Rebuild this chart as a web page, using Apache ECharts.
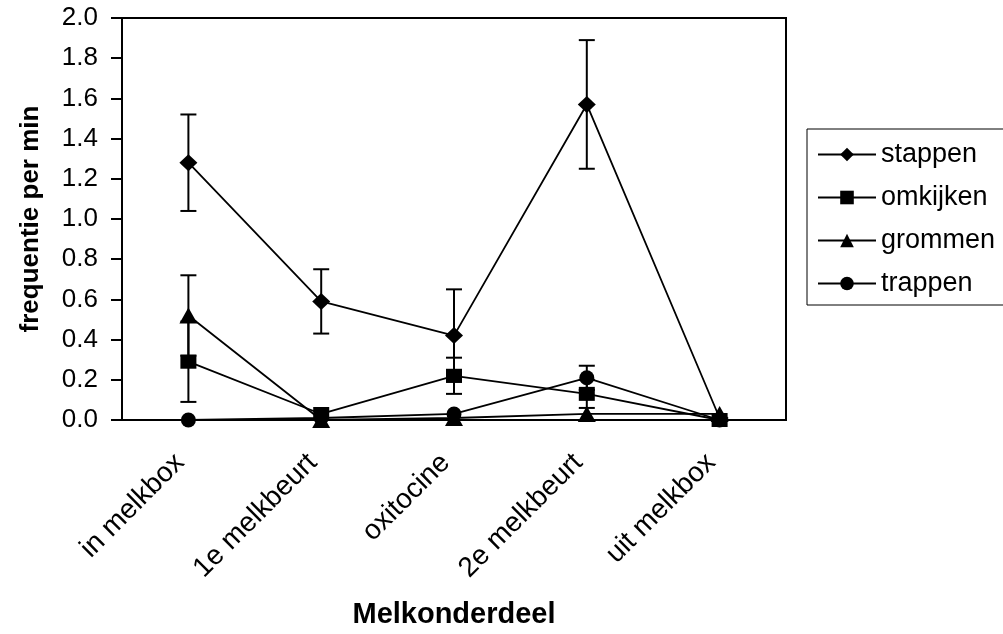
<!DOCTYPE html>
<html>
<head>
<meta charset="utf-8">
<script src="https://cdn.jsdelivr.net/npm/echarts@6/dist/echarts.min.js"></script>
<style>
  html, body { margin: 0; padding: 0; background: #fff; }
  #chart { width: 1003px; height: 634px; }
</style>
</head>
<body>
<div id="chart"></div>
<script>
  const categories = ['in melkbox', '1e melkbeurt', 'oxitocine', '2e melkbeurt', 'uit melkbox'];
  const yTicks = [0, 0.2, 0.4, 0.6, 0.8, 1.0, 1.2, 1.4, 1.6, 1.8, 2.0];

  const stappen = [1.28, 0.59, 0.42, 1.57, 0.01];
  const stappenErr = [0.24, 0.16, 0.23, 0.32, 0];
  const omkijken = [0.29, 0.03, 0.22, 0.13, 0];
  const omkijkenErr = [0.2, 0, 0.09, 0.07, 0];
  const grommen = [0.52, 0.0, 0.01, 0.03, 0.03];
  const grommenErr = [0.2, 0, 0, 0, 0];
  const trappen = [0.0, 0.01, 0.03, 0.21, 0.0];
  const trappenErr = [0, 0, 0, 0.06, 0];

  const chart = echarts.init(document.getElementById('chart'));
  const font = 'Liberation Sans, Arial, sans-serif';

  function errorData(vals, errs) {
    return vals.map((v, i) => [i, v - errs[i], v + errs[i]]).filter((d, i) => errs[i] > 0);
  }

  // vertical error bar with caps
  function errorSeries(vals, errs) {
    return {
      type: 'custom',
      silent: true,
      z: 1,
      data: errorData(vals, errs),
      renderItem(params, api) {
        const lo = api.coord([api.value(0), api.value(1)]);
        const hi = api.coord([api.value(0), api.value(2)]);
        const w = 8;
        const style = { stroke: '#000', lineWidth: 2 };
        return {
          type: 'group',
          children: [
            { type: 'line', shape: { x1: lo[0], y1: lo[1], x2: hi[0], y2: hi[1] }, style },
            { type: 'line', shape: { x1: hi[0] - w, y1: hi[1], x2: hi[0] + w, y2: hi[1] }, style },
            { type: 'line', shape: { x1: lo[0] - w, y1: lo[1], x2: lo[0] + w, y2: lo[1] }, style }
          ]
        };
      }
    };
  }

  function lineSeries(name, data, symbol, size) {
    return {
      name: name,
      type: 'line',
      data: data,
      symbol: symbol,
      symbolSize: size,
      z: 3,
      lineStyle: { color: '#000', width: 1.8 },
      itemStyle: { color: '#000', borderWidth: 0 }
    };
  }

  chart.setOption({
    animation: false,
    backgroundColor: '#fff',
    grid: {
      left: 122, right: 217, top: 18, bottom: 214,
      show: true, borderColor: '#000', borderWidth: 2
    },
    legend: {
      orient: 'vertical',
      left: 807, top: 129,
      width: 194,
      itemWidth: 58, itemHeight: 17, itemGap: 16,
      padding: [12, 40, 8, 10],
      borderColor: '#000', borderWidth: 1,
      textStyle: { fontFamily: font, fontSize: 27, color: '#000', padding: [0, 0, 0, 0] },
      data: ['stappen', 'omkijken', 'grommen', 'trappen']
    },
    xAxis: {
      type: 'category',
      data: categories,
      boundaryGap: true,
      name: 'Melkonderdeel',
      nameLocation: 'middle',
      nameGap: 180,
      nameTextStyle: { fontFamily: font, fontSize: 29, fontWeight: 'bold', color: '#000' },
      axisLine: { lineStyle: { color: '#000', width: 2 } },
      axisTick: { inside: true, length: 9, lineStyle: { color: '#000', width: 2 } },
      axisLabel: {
        rotate: 45, fontFamily: font, fontSize: 28, color: '#000', margin: 30,
        padding: [0, 12, 0, 0]
      }
    },
    yAxis: {
      type: 'value',
      min: yTicks[0], max: yTicks[yTicks.length - 1], interval: 0.2,
      name: 'frequentie per min',
      nameLocation: 'middle',
      nameGap: 78,
      nameTextStyle: { fontFamily: font, fontSize: 26, fontWeight: 'bold', color: '#000' },
      splitLine: { show: false },
      axisLine: { show: true, lineStyle: { color: '#000', width: 2 } },
      axisTick: { show: true, length: 11, lineStyle: { color: '#000', width: 2 } },
      axisLabel: {
        fontFamily: font, fontSize: 26, color: '#000', margin: 24,
        formatter: v => v.toFixed(1)
      }
    },
    series: [
      errorSeries(stappen, stappenErr),
      errorSeries(omkijken, omkijkenErr),
      errorSeries(grommen, grommenErr),
      errorSeries(trappen, trappenErr),
      lineSeries('stappen', stappen, 'diamond', [18, 17]),
      lineSeries('omkijken', omkijken, 'rect', [16, 14]),
      lineSeries('grommen', grommen, 'triangle', [18, 16]),
      lineSeries('trappen', trappen, 'circle', 15)
    ]
  });
</script>
</body>
</html>
